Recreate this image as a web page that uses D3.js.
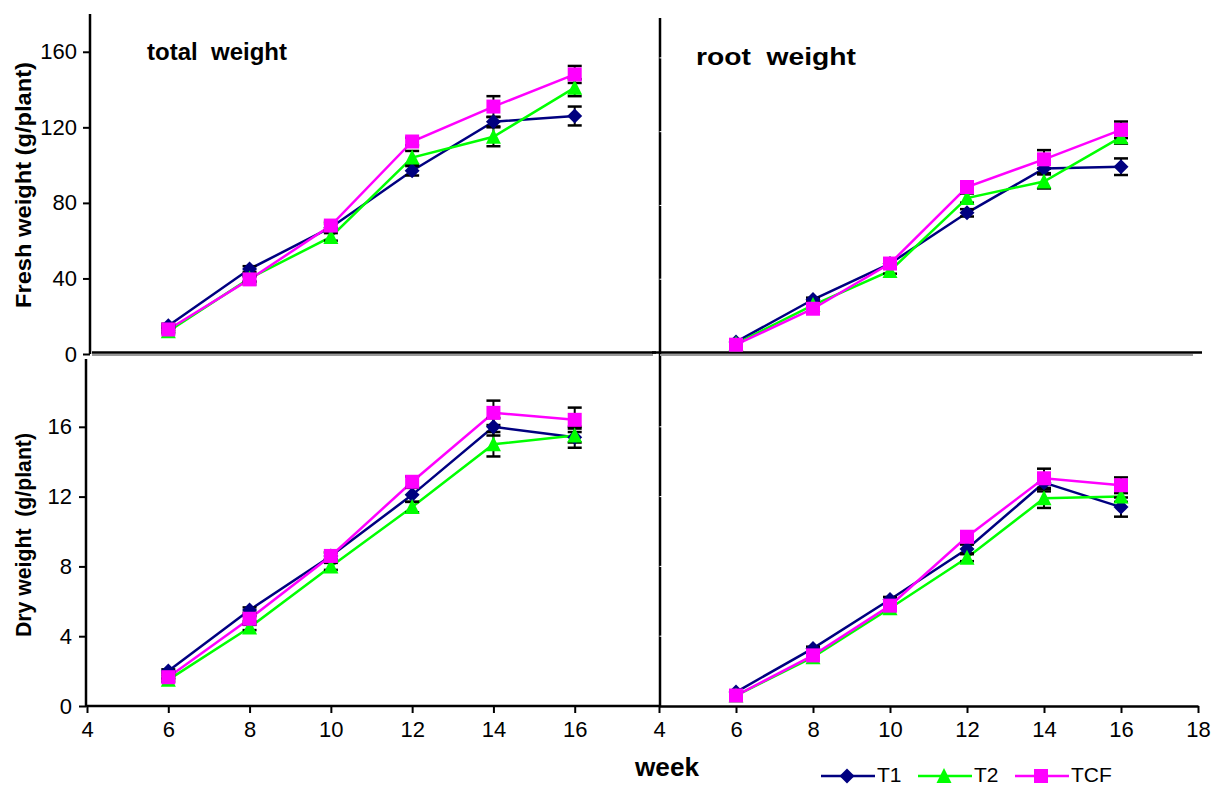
<!DOCTYPE html>
<html><head><meta charset="utf-8">
<script src="https://cdn.jsdelivr.net/npm/d3@7"></script>
<style>
body{margin:0;background:#fff}
text{font-family:"Liberation Sans",Arial,sans-serif;fill:#000}
</style>
</head><body>
<svg id="c" width="1212" height="788"></svg>
<script>
// ---------- data ----------
const weeks = [6, 8, 10, 12, 14, 16];
const seriesNames = ["T1", "T2", "TCF"];
const xTicksLeft = [4, 6, 8, 10, 12, 14, 16];
const xTicksRight = [4, 6, 8, 10, 12, 14, 16, 18];
const freshTicks = [0, 40, 80, 120, 160];
const dryTicks = [0, 4, 8, 12, 16];
const panelTitles = ["total  weight", "root  weight"];

// Fresh weight, total (g/plant)
const freshTotalT1  = [15, 45, 67, 97, 123, 126];
const freshTotalT2  = [12, 40, 62, 104, 115, 141];
const freshTotalTCF = [13, 39.5, 68, 112.5, 131, 148];
const freshTotalT1Err  = [1, 1.5, 2, 2.5, 2.5, 5];
const freshTotalT2Err  = [1, 1.5, 2, 3.5, 5, 4.5];
const freshTotalTCFErr = [1, 1.5, 2, 2, 5.5, 4.5];

// Fresh weight, root (g/plant)
const freshRootT1  = [6, 29, 48.5, 76, 100, 101];
const freshRootT2  = [5, 26, 44.5, 84, 93, 117];
const freshRootTCF = [4.5, 24, 48.5, 90, 105, 121];
const freshRootT1Err  = [0.5, 1, 1.5, 2, 2.5, 4.5];
const freshRootT2Err  = [0.5, 1, 1.5, 2.5, 3.8, 3.5];
const freshRootTCFErr = [0.5, 1, 1.5, 2, 5, 4.5];

// Dry weight, total (g/plant)
const dryTotalT1  = [2.0, 5.5, 8.6, 12.1, 16.0, 15.4];
const dryTotalT2  = [1.5, 4.5, 8.0, 11.4, 15.0, 15.5];
const dryTotalTCF = [1.65, 5.0, 8.6, 12.85, 16.8, 16.4];
const dryTotalT1Err  = [0.1, 0.15, 0.2, 0.4, 0.5, 0.6];
const dryTotalT2Err  = [0.1, 0.15, 0.2, 0.3, 0.7, 0.4];
const dryTotalTCFErr = [0.1, 0.15, 0.2, 0.3, 0.7, 0.7];

// Dry weight, root (g/plant)
const dryRootT1  = [0.8, 3.3, 6.1, 9.0, 12.8, 11.4];
const dryRootT2  = [0.6, 2.8, 5.6, 8.5, 11.9, 12.0];
const dryRootTCF = [0.6, 2.9, 5.75, 9.7, 13.05, 12.65];
const dryRootT1Err  = [0.05, 0.1, 0.15, 0.25, 0.5, 0.55];
const dryRootT2Err  = [0.05, 0.1, 0.15, 0.2, 0.55, 0.3];
const dryRootTCFErr = [0.05, 0.1, 0.15, 0.25, 0.55, 0.45];

// ---------- styles ----------
const colors = {T1: "#000080", T2: "#00FF00", TCF: "#FF00FF"};
const FONT = '"Liberation Sans", Arial, sans-serif';
const TICK_FS = 22;

const svg = d3.select("#c");

// scales
const xL = d3.scaleLinear().domain([4, 18]).range([87, 656]);
const xR = d3.scaleLinear().domain([4, 18]).range([659, 1198]);
const yTL = d3.scaleLinear().domain([0, 180]).range([354, 14]);
const yTR = d3.scaleLinear().domain([0, 180]).range([353, 21]);
const yBL = d3.scaleLinear().domain([0, 20]).range([706, 357]);
const yBR = d3.scaleLinear().domain([0, 20]).range([706, 357]);

const panels = [
  {x: xL, y: yTL, vals: [freshTotalT1, freshTotalT2, freshTotalTCF], errs: [freshTotalT1Err, freshTotalT2Err, freshTotalTCFErr]},
  {x: xR, y: yTR, vals: [freshRootT1, freshRootT2, freshRootTCF], errs: [freshRootT1Err, freshRootT2Err, freshRootTCFErr]},
  {x: xL, y: yBL, vals: [dryTotalT1, dryTotalT2, dryTotalTCF], errs: [dryTotalT1Err, dryTotalT2Err, dryTotalTCFErr]},
  {x: xR, y: yBR, vals: [dryRootT1, dryRootT2, dryRootTCF], errs: [dryRootT1Err, dryRootT2Err, dryRootTCFErr]},
];

// ---------- axes ----------
function styleAxis(g, fs) {
  g.selectAll("path.domain").attr("stroke", "#000").attr("stroke-width", 2.5);
  g.selectAll(".tick line").attr("stroke", "#000").attr("stroke-width", 2);
  g.selectAll(".tick text").attr("font-family", FONT).attr("font-size", fs).attr("fill", "#000");
}

// top-left y axis
const gTL = svg.append("g").attr("transform", "translate(90,0)")
  .call(d3.axisLeft(yTL).tickValues(freshTicks).tickSize(7).tickSizeOuter(0).tickPadding(6));
styleAxis(gTL, TICK_FS);
gTL.select("path.domain").attr("d", `M0,${yTL(180)}V${yTL(0)}`);

// bottom-left y axis
const gBL = svg.append("g").attr("transform", "translate(86,0)")
  .call(d3.axisLeft(yBL).tickValues(dryTicks).tickSize(7).tickSizeOuter(0).tickPadding(7));
styleAxis(gBL, TICK_FS);
gBL.select("path.domain").attr("d", `M0,${yBL(20) + 2}V${yBL(0)}`);

// right vertical divider (y axes of right panels)
svg.append("line").attr("x1", 660).attr("x2", 660).attr("y1", 18).attr("y2", 706)
  .attr("stroke", "#000").attr("stroke-width", 2.5);
// small white tick marks on the right panels' axis
[yTR, yBR].forEach((ys, i) => {
  const tv = i === 0 ? freshTicks.slice(1) : dryTicks.slice(1);
  svg.append("g").selectAll("line").data(tv).join("line")
    .attr("x1", 659.5).attr("x2", 662).attr("y1", d => ys(d)).attr("y2", d => ys(d))
    .attr("stroke", "#fff").attr("stroke-width", 1);
});
// bottom-right zero tick
svg.append("line").attr("x1", 651).attr("x2", 660).attr("y1", yBR(0)).attr("y2", yBR(0))
  .attr("stroke", "#000").attr("stroke-width", 2);

// top panels' x-axis lines (with grey shadow)
svg.append("line").attr("x1", 92).attr("x2", 653).attr("y1", 355).attr("y2", 355)
  .attr("stroke", "#9a9a9a").attr("stroke-width", 2);
svg.append("line").attr("x1", 660).attr("x2", 1193).attr("y1", 355).attr("y2", 355)
  .attr("stroke", "#9a9a9a").attr("stroke-width", 2);
svg.append("line").attr("x1", 92).attr("x2", 656).attr("y1", 352.5).attr("y2", 352.5)
  .attr("stroke", "#000").attr("stroke-width", 2.5);
svg.append("line").attr("x1", 652).attr("x2", 1202).attr("y1", 352.5).attr("y2", 352.5)
  .attr("stroke", "#000").attr("stroke-width", 2.5);

// bottom x axes
const gXL = svg.append("g").attr("transform", "translate(0,706)")
  .call(d3.axisBottom(xL).tickValues(xTicksLeft).tickSize(7).tickSizeOuter(0).tickPadding(8));
styleAxis(gXL, TICK_FS);
gXL.select("path.domain").attr("d", `M86,0H${xR(4)}`);
const gXR = svg.append("g").attr("transform", "translate(0,706)")
  .call(d3.axisBottom(xR).tickValues(xTicksRight).tickSize(7).tickSizeOuter(0).tickPadding(8));
styleAxis(gXR, TICK_FS);

// ---------- series ----------
function markerPath(name) {
  if (name === "T1") return "M0,-7.5L7.5,0L0,7.5L-7.5,0Z";
  if (name === "T2") return "M0,-8L7.5,7L-7.5,7Z";
  return "M-7,-7H7V7H-7Z";
}

panels.forEach(p => {
  const g = svg.append("g");
  const line = d3.line().x((d, i) => p.x(weeks[i])).y(d => p.y(d));
  p.vals.forEach((v, si) => {
    g.append("path").datum(v).attr("d", line)
      .attr("fill", "none").attr("stroke", colors[seriesNames[si]]).attr("stroke-width", 2.5);
  });
  p.vals.forEach((v, si) => {
    const e = p.errs[si];
    const eg = g.append("g").attr("stroke", "#000");
    v.forEach((d, i) => {
      const cx = p.x(weeks[i]), y1 = p.y(d + e[i]), y2 = p.y(d - e[i]);
      eg.append("line").attr("x1", cx).attr("x2", cx).attr("y1", y1).attr("y2", y2).attr("stroke-width", 2);
      eg.append("line").attr("x1", cx - 7).attr("x2", cx + 7).attr("y1", y1).attr("y2", y1).attr("stroke-width", 2.5);
      eg.append("line").attr("x1", cx - 7).attr("x2", cx + 7).attr("y1", y2).attr("y2", y2).attr("stroke-width", 2.5);
    });
  });
  p.vals.forEach((v, si) => {
    const nm = seriesNames[si];
    g.append("g").selectAll("path").data(v).join("path")
      .attr("transform", (d, i) => `translate(${p.x(weeks[i])},${p.y(d)})`)
      .attr("d", markerPath(nm)).attr("fill", colors[nm]);
  });
});

// ---------- text ----------
svg.append("text").attr("x", 147).attr("y", 60).attr("font-size", 23).attr("font-weight", "bold")
  .attr("textLength", 140).attr("lengthAdjust", "spacingAndGlyphs")
  .style("white-space", "pre").text(panelTitles[0]);
svg.append("text").attr("x", 696).attr("y", 65).attr("font-size", 24).attr("font-weight", "bold")
  .attr("textLength", 160).attr("lengthAdjust", "spacingAndGlyphs")
  .style("white-space", "pre").text(panelTitles[1]);

svg.append("text").attr("transform", "translate(31,185) rotate(-90)").attr("text-anchor", "middle")
  .attr("font-size", 22).attr("font-weight", "bold")
  .attr("textLength", 246).attr("lengthAdjust", "spacingAndGlyphs")
  .text("Fresh weight (g/plant)");
svg.append("text").attr("transform", "translate(31,535) rotate(-90)").attr("text-anchor", "middle")
  .attr("font-size", 22).attr("font-weight", "bold")
  .attr("textLength", 204).attr("lengthAdjust", "spacingAndGlyphs")
  .style("white-space", "pre").text("Dry weight  (g/plant)");

svg.append("text").attr("x", 635).attr("y", 776).attr("font-size", 25).attr("font-weight", "bold")
  .attr("textLength", 64).attr("lengthAdjust", "spacingAndGlyphs").text("week");

// ---------- legend ----------
const legendX = [821, 918, 1015];
const lg = svg.append("g");
seriesNames.forEach((nm, i) => {
  const x0 = legendX[i], yc = 776;
  lg.append("line").attr("x1", x0).attr("x2", x0 + 54).attr("y1", yc).attr("y2", yc)
    .attr("stroke", colors[nm]).attr("stroke-width", 2.5);
  lg.append("path").attr("transform", `translate(${x0 + 26},${yc})`).attr("d", markerPath(nm)).attr("fill", colors[nm]);
  lg.append("text").attr("x", x0 + 56).attr("y", 782).attr("font-size", 21).text(nm);
});
</script>
</body></html>
